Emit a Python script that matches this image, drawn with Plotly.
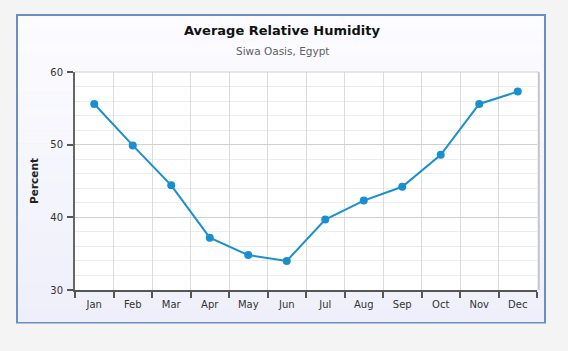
import plotly.graph_objects as go

months = ["Jan", "Feb", "Mar", "Apr", "May", "Jun", "Jul", "Aug", "Sep", "Oct", "Nov", "Dec"]
humidity = [55.6, 49.9, 44.4, 37.2, 34.8, 34.0, 39.7, 42.3, 44.2, 48.6, 55.6, 57.3]
y_ticks = [30, 40, 50, 60]

FONT = "DejaVu Sans"
PW, PH = 462, 218  # plot area size in px
X0, YB = 75, 290   # plot area left / bottom in px


def px(x):
    return (x - X0) / PW


def py(y):
    return (YB - y) / PH


fig = go.Figure()
fig.add_trace(go.Scatter(
    x=months, y=humidity, mode="lines+markers",
    line=dict(color="#1a8fcf", width=2),
    marker=dict(color="#1a8fcf", size=8),
    hoverinfo="x+y", showlegend=False,
))

shapes = [
    dict(type="rect", xref="paper", yref="paper", layer="below",
         x0=px(17), x1=px(545), y0=py(322.5), y1=py(15),
         line=dict(color="#6b8fc5", width=2), fillcolor="#eeeff9"),
]
# soft vertical gradient inside the panel
top, bot = 16, 322
n = 24
c0 = (252, 252, 255)
c1 = (238, 239, 250)
for i in range(n):
    ya = top + (bot - top) * i / n
    yb = top + (bot - top) * (i + 1) / n
    t = i / (n - 1)
    c = tuple(round(c0[k] + (c1[k] - c0[k]) * t) for k in range(3))
    shapes.append(dict(type="rect", xref="paper", yref="paper", layer="below",
                       x0=px(18), x1=px(544), y0=py(yb), y1=py(ya),
                       line=dict(width=0), fillcolor="rgb(%d,%d,%d)" % c))
shapes += [
    dict(type="rect", xref="paper", yref="paper", layer="below",
         x0=0, x1=1, y0=0, y1=1, line=dict(width=0), fillcolor="#ffffff"),
    dict(type="line", xref="paper", yref="paper", x0=1.004, x1=1.004, y0=0, y1=1.0,
         line=dict(color="#c8c8c8", width=2)),
    dict(type="line", xref="paper", yref="paper", x0=0, x1=1.004, y0=1.0, y1=1.0,
         line=dict(color="#d0d0d0", width=1)),
]

annotations = [
    dict(text="<b>Average Relative Humidity</b>", xref="paper", yref="paper",
         x=px(282), y=py(31), xanchor="center", yanchor="middle", showarrow=False,
         font=dict(family=FONT, size=13, color="#111111")),
    dict(text="Siwa Oasis, Egypt", xref="paper", yref="paper",
         x=px(282), y=py(51), xanchor="center", yanchor="middle", showarrow=False,
         font=dict(family=FONT, size=10.5, color="#5e5e5e")),
]

fig.update_layout(
    width=568, height=351,
    margin=dict(l=75, r=31, t=72, b=61),
    paper_bgcolor="#f4f4f4",
    plot_bgcolor="rgba(0,0,0,0)",
    font=dict(family=FONT, size=10, color="#333333"),
    xaxis=dict(
        type="category", tickson="boundaries", showgrid=True, gridcolor="#dcdcdc", gridwidth=1,
        showline=True, linecolor="#555555", linewidth=2,
        ticks="outside", ticklen=6, tickcolor="#555555", tickwidth=1.5,
        tickfont=dict(size=10, color="#333333"), fixedrange=True,
        ticklabelstandoff=4,
        range=[-0.5, 11.5],
    ),
    yaxis=dict(
        range=[30, 60], tickvals=y_ticks, showgrid=True, gridcolor="#d0d0d0", gridwidth=1,
        minor=dict(dtick=2, showgrid=True, gridcolor="#ececec", gridwidth=1),
        showline=True, linecolor="#666666", linewidth=2,
        ticks="outside", ticklen=6, tickcolor="#555555", tickwidth=1.5,
        tickfont=dict(size=10, color="#333333"), zeroline=False,
        ticklabelstandoff=2,
        title=dict(text="<b>Percent</b>", font=dict(size=10.5, color="#222222"), standoff=10),
        fixedrange=True,
    ),
    shapes=shapes,
    annotations=annotations,
)

fig.write_html("out.html", config={"displayModeBar": False},
               post_script="document.body.style.margin='0';")
